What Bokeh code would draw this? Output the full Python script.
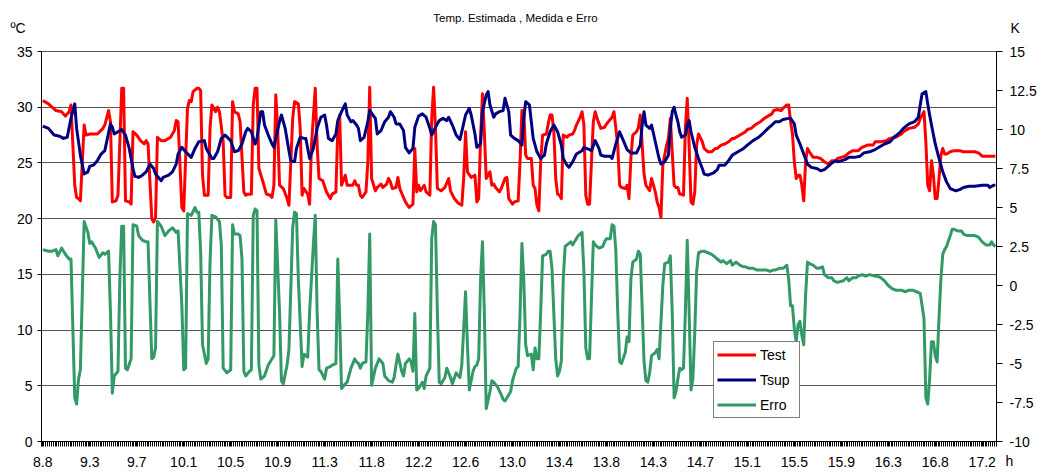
from bokeh.plotting import figure
from bokeh.models import (Range1d, LinearAxis, FixedTicker, Label, Legend, LegendItem,
                          CustomJSTickFormatter)
from bokeh.embed import file_html
from bokeh.resources import INLINE

FONT = "Liberation Sans"

# time axis: minutes after 8:50 (one sample per minute); labels every 25 min
x_tick_labels = ["8.8", "9.3", "9.7", "10.1", "10.5", "10.9", "11.3", "11.8", "12.2", "12.6",
                 "13.0", "13.4", "13.8", "14.3", "14.7", "15.1", "15.5", "15.9", "16.3", "16.8", "17.2"]
label_step_min = 25
n_samples = 508

test_min = [0, 3, 7, 10, 12, 14, 15, 17, 18, 19, 20, 22, 23, 25, 29, 32, 33, 35, 36, 37, 39, 40, 42, 43, 44, 46, 47, 48, 50, 52, 54, 55, 56, 58, 59, 60, 61, 63, 65, 68, 70, 71, 72, 74, 75, 77, 78, 79, 80, 82,
            83, 84, 85, 86, 88, 89, 90, 91, 92, 93, 94, 96, 97, 98, 100, 101, 102, 104, 105, 107, 108, 109, 111, 112, 113, 114, 115, 117, 119, 121, 122, 123, 124, 125, 126, 128, 130, 131, 133, 134, 136, 137, 138, 139, 141, 142, 143, 145, 146, 147, 149, 151, 153, 154, 156, 157, 158, 159, 161, 162, 165, 166, 167,
            168, 169, 170, 172, 173, 174, 175, 177, 178, 180, 181, 183, 184, 185, 186, 188, 189, 190, 192, 193, 195, 197, 198, 199, 200, 201, 203, 204, 206, 207, 208, 209, 210, 212, 214, 216, 217, 219, 221, 223, 224, 225, 226, 228, 230, 231, 232, 233, 234, 235, 236, 238, 239, 240, 241, 243, 244, 246, 247, 248, 250, 251, 253,
            254, 255, 256, 257, 258, 260, 261, 262, 263, 264, 265, 266, 268, 269, 270, 271, 272, 273, 274, 275, 276, 277, 279, 280, 282, 283, 284, 286, 287, 288, 289, 290, 291, 293, 294, 295, 297, 299, 300, 301, 303, 304, 306, 307, 308, 310, 311, 312, 313, 314, 316, 317, 318, 320, 321, 323, 324, 326, 327, 328, 329, 330, 332, 333, 334, 336, 337, 338, 339,
            340, 341, 342, 343, 344, 345, 346, 347, 348, 349, 351, 352, 354, 356, 358, 359, 361, 363, 365, 367, 368, 370, 372, 374, 375, 377, 379, 381, 382, 384, 386, 388, 389, 391, 393, 394, 396, 397, 398, 399, 400, 401, 402, 403, 404, 405, 406, 407, 408, 410, 412, 414, 416, 418, 420, 422,
            423, 427, 429, 431, 434, 436, 439, 442, 443, 446, 449, 451, 454, 457, 458, 461, 464, 466, 467, 469, 470, 471, 472, 473, 474, 475, 476, 477, 478, 479, 480, 481, 483, 485, 488, 490, 494, 496, 498, 500, 503, 505, 507]
test_val = [30.6, 30.3, 29.7, 29.6, 29.2, 29.6, 30.2, 23.0, 21.9, 21.8, 21.6, 28.4, 27.5, 27.6, 27.6, 28.1, 28.4, 29.7, 28.7, 21.5, 21.6, 22.1, 31.7, 31.7, 21.6, 21.5, 21.3, 27.8, 27.5, 27.0, 26.7, 27.0, 26.7, 20.0, 19.7, 20.1, 27.3, 27.0, 27.0, 27.3, 27.9, 28.8, 28.7, 21.0, 20.7, 29.9, 30.6, 30.5, 31.4, 31.7,
            31.7, 31.5, 23.9, 22.1, 22.1, 28.1, 30.2, 29.9, 29.6, 30.0, 29.6, 26.9, 22.1, 21.9, 21.9, 30.5, 29.6, 29.4, 28.7, 22.4, 22.1, 22.2, 22.2, 30.2, 31.7, 31.7, 24.5, 23.4, 22.2, 22.1, 21.9, 23.0, 31.1, 28.1, 23.0, 22.7, 21.8, 21.2, 29.0, 30.5, 30.3, 28.1, 22.1, 22.7, 22.2, 21.3, 26.6, 31.7, 26.6, 23.6, 23.4, 22.4, 21.8, 22.2, 22.4, 28.1, 29.3, 23.0, 23.9, 23.0, 23.0, 23.4, 23.0,
            23.0, 22.1, 21.9, 22.4, 25.1, 31.8, 23.6, 22.5, 22.8, 23.1, 22.8, 23.1, 23.6, 23.3, 22.7, 22.8, 23.7, 22.7, 21.9, 21.5, 21.0, 21.3, 26.3, 22.4, 23.0, 22.5, 23.0, 22.4, 22.1, 29.0, 31.8, 28.1, 22.7, 22.5, 22.8, 23.6, 22.5, 21.8, 21.4, 21.2, 23.6, 27.8, 24.2, 23.7, 23.9, 21.5, 21.8, 27.2, 31.2, 27.8, 23.6, 24.2, 23.0, 23.1, 22.8, 22.4, 22.7, 23.6, 23.7, 21.8, 21.3, 21.5, 21.6,
            25.1, 29.7, 29.6, 25.7, 25.4, 25.4, 23.0, 22.7, 21.2, 20.7, 25.1, 27.5, 27.6, 28.5, 29.3, 29.3, 27.8, 23.6, 22.2, 22.1, 21.8, 27.5, 27.3, 27.5, 27.6, 27.9, 28.4, 29.1, 29.6, 28.4, 22.1, 21.3, 21.3, 28.7, 29.6, 29.0, 28.1, 28.2, 28.5, 28.7, 29.1, 29.6, 26.6, 23.0, 22.8, 22.7, 23.0, 21.8, 25.4, 27.5, 27.8, 28.2, 29.3, 24.0, 23.0, 22.5, 23.6, 22.4, 21.5, 21.0, 20.1, 24.8, 26.6, 27.2, 29.0, 23.0, 22.8, 22.8, 22.2,
            22.2, 22.1, 28.1, 30.8, 26.6, 21.5, 21.3, 22.4, 26.6, 27.6, 26.9, 26.3, 26.0, 26.0, 26.3, 26.3, 26.6, 26.7, 26.9, 27.2, 27.2, 27.4, 27.6, 27.8, 28.0, 28.1, 28.4, 28.6, 28.7, 29.0, 29.2, 29.4, 29.7, 29.8, 29.7, 29.9, 30.2, 30.2, 28.7, 27.6, 25.1, 23.6, 23.9, 23.9, 23.0, 21.6, 25.1, 26.3, 26.0, 25.5, 25.5, 25.4, 25.1, 24.9, 25.2, 25.2,
            25.4, 25.6, 25.9, 26.1, 26.1, 26.4, 26.6, 26.6, 26.9, 26.9, 27.0, 27.2, 27.3, 27.6, 27.8, 28.1, 28.2, 28.5, 29.0, 29.6, 26.9, 23.0, 22.5, 25.2, 23.9, 21.8, 21.8, 23.6, 25.7, 26.3, 25.8, 25.8, 26.0, 26.1, 26.1, 26.0, 26.0, 26.0, 25.9, 25.6, 25.6, 25.6, 25.6]

tsup_min = [0, 3, 6, 9, 11, 13, 15, 17, 18, 20, 22, 24, 25, 27, 29, 31, 33, 34, 36, 37, 38, 40, 42, 44, 46, 48, 49, 51, 53, 55, 57, 59, 60, 63, 64, 67, 69, 71, 72, 74, 76, 79, 81,
            83, 86, 87, 90, 91, 93, 95, 97, 100, 102, 104, 106, 108, 109, 111, 113, 114, 116, 117, 118, 120, 122, 123, 124, 126, 127, 129, 131, 132, 134, 135, 137, 139, 140, 142, 144, 146, 148, 150, 151, 152, 154, 156, 157, 159, 161, 162, 164, 165, 167,
            168, 169, 171, 173, 174, 177, 178, 180, 182, 184, 185, 187, 188, 190, 192, 193, 195, 197, 198, 200, 202, 204, 206, 207, 209, 211, 213, 215, 216, 218, 220, 222, 223, 225, 227, 228, 230, 231, 233, 234, 236, 237, 238, 240, 241, 243, 245, 246, 248, 249, 251, 253,
            255, 256, 257, 259, 260, 261, 263, 265, 267, 268, 270, 272, 274, 276, 277, 279, 280, 282, 284, 287, 288, 291, 292, 294, 296, 297, 299, 302, 303, 305, 307, 309, 311, 313, 316, 318, 319, 320, 321, 323, 324, 326, 328, 329, 331, 333, 334, 335, 336, 337, 338, 339,
            340, 342, 343, 344, 345, 347, 349, 351, 352, 354, 357, 359, 360, 363, 365, 367, 370, 373, 375, 378, 381, 383, 386, 388, 390, 392, 394, 397, 398, 400, 401, 403, 405, 407, 409, 412, 414, 416, 418, 420, 422,
            423, 427, 429, 432, 435, 437, 440, 443, 445, 448, 451, 453, 456, 458, 461, 464, 466, 467, 468, 470, 471, 472, 473, 475, 477, 479, 481, 483, 486, 488, 490, 493, 496, 500, 503, 504, 506, 507]
tsup_val = [28.3, 28.1, 27.5, 27.4, 27.2, 27.3, 29.0, 30.3, 28.1, 25.7, 24.0, 24.2, 24.7, 24.8, 25.2, 25.8, 26.1, 26.9, 28.5, 28.2, 27.6, 27.8, 28.0, 27.5, 26.3, 24.5, 23.8, 23.7, 23.9, 24.2, 24.9, 24.5, 24.0, 23.4, 23.7, 23.9, 24.2, 24.9, 25.8, 26.4, 26.0, 25.5, 26.3,
            26.9, 27.0, 26.3, 25.4, 25.4, 26.0, 27.2, 27.5, 27.0, 26.0, 26.1, 26.7, 27.8, 28.1, 27.8, 26.7, 27.2, 29.6, 29.6, 28.4, 27.5, 26.7, 26.4, 27.2, 28.7, 29.3, 28.1, 26.1, 25.2, 25.1, 26.3, 27.3, 27.2, 27.2, 25.4, 26.3, 28.1, 29.1, 29.3, 28.4, 27.2, 27.0, 27.6, 28.8, 29.6, 30.3, 29.3, 28.7, 28.8, 28.4,
            28.1, 27.0, 27.3, 28.7, 29.7, 29.0, 27.6, 27.9, 28.7, 29.1, 29.6, 29.1, 28.5, 28.5, 27.9, 26.4, 25.9, 26.3, 28.2, 29.2, 29.4, 29.1, 28.1, 27.5, 28.2, 28.8, 29.0, 28.8, 29.1, 28.4, 27.5, 27.1, 27.8, 29.3, 29.9, 29.3, 27.6, 26.4, 26.7, 29.6, 31.1, 31.4, 30.2, 29.1, 29.4, 29.6, 29.7, 30.8, 29.6, 27.5, 27.2, 27.0,
            26.6, 29.0, 30.5, 30.2, 28.7, 27.2, 26.0, 25.4, 25.7, 26.7, 27.8, 28.4, 27.8, 26.6, 25.4, 24.8, 24.6, 25.1, 25.8, 26.1, 26.4, 26.2, 26.1, 27.0, 26.3, 25.7, 25.6, 25.6, 25.4, 26.7, 27.8, 27.0, 26.2, 25.9, 25.9, 26.6, 28.4, 29.6, 28.4, 28.1, 28.4, 26.9, 25.4, 24.9, 25.1, 25.7, 28.1, 29.6, 30.0, 29.3, 28.7, 27.8,
            27.3, 27.5, 28.4, 28.8, 27.8, 26.4, 25.4, 24.5, 24.0, 23.9, 24.1, 24.4, 24.8, 24.8, 25.2, 25.7, 26.0, 26.3, 26.6, 27.0, 27.3, 27.6, 28.1, 28.4, 28.7, 28.7, 28.9, 29.0, 29.0, 28.5, 27.5, 26.7, 25.8, 24.9, 24.6, 24.5, 24.3, 24.4, 24.7, 25.0, 25.2,
            25.1, 25.3, 25.5, 25.5, 25.6, 25.9, 26.0, 26.2, 26.4, 26.7, 26.9, 27.3, 27.7, 28.1, 28.5, 28.7, 29.1, 30.2, 31.2, 31.4, 30.3, 29.3, 28.4, 26.7, 25.4, 24.2, 23.3, 22.7, 22.5, 22.6, 22.8, 22.9, 22.9, 23.0, 23.0, 22.8, 23.0, 23.0]

erro_min = [0, 3, 5, 7, 8, 10, 12, 14, 15, 16, 17, 18, 19, 20, 21, 22, 24, 25, 26, 28, 30, 32, 33, 35, 36, 37, 38, 40, 41, 42, 43, 44, 45, 47, 48, 50, 51, 53, 55, 56, 58, 59, 60, 61, 63, 65, 67, 69, 71, 72, 74, 75, 76, 77, 79, 81, 82,
            83, 84, 85, 87, 88, 89, 90, 92, 94, 95, 96, 98, 100, 101, 102, 104, 105, 106, 107, 108, 110, 111, 112, 113, 114, 115, 116, 118, 120, 122, 123, 124, 126, 127, 128, 130, 131, 133, 134, 135, 136, 138, 139, 141, 142, 144, 145, 146, 147, 148, 150, 151, 153, 154, 156, 157, 158, 159, 161, 162, 164, 166, 167,
            168, 169, 170, 172, 173, 174, 175, 177, 179, 181, 182, 184, 186, 187, 188, 189, 191, 192, 193, 195, 196, 197, 198, 199, 200, 202, 203, 204, 206, 207, 208, 209, 210, 211, 212, 214, 215, 217, 218, 220, 222, 223, 224, 225, 226, 227, 229, 230, 231, 232, 233, 234, 235, 236, 238, 239, 240, 242, 244, 245, 246, 248, 249, 250, 252, 253, 254,
            255, 256, 257, 258, 260, 261, 262, 263, 264, 265, 266, 268, 269, 270, 271, 273, 274, 275, 276, 277, 278, 280, 281, 282, 283, 285, 286, 287, 288, 289, 290, 291, 293, 294, 296, 298, 299, 300, 302, 303, 304, 305, 306, 307, 308, 310, 311, 312, 313, 314, 316, 317, 318, 320, 321, 322, 323, 324, 326, 327, 328, 330, 331, 333, 334, 335, 336, 337, 338, 339,
            340, 341, 342, 343, 344, 345, 346, 347, 348, 349, 351, 352, 354, 356, 358, 359, 361, 362, 364, 366, 367, 369, 371, 373, 374, 376, 378, 380, 382, 383, 385, 387, 389, 390, 392, 394, 395, 396, 397, 398, 399, 400, 401, 402, 403, 404, 405, 406, 407, 408, 410, 412, 413, 415, 416, 418, 420, 421,
            423, 426, 428, 429, 431, 433, 434, 436, 438, 440, 443, 444, 446, 448, 450, 452, 454, 457, 459, 461, 463, 465, 467, 469, 470, 471, 472, 473, 474, 475, 476, 477, 478, 479, 480, 481, 483, 484, 485, 487, 489, 490, 492, 494, 496, 498, 500, 502, 504, 505, 506, 507]
erro_val = [2.3, 2.2, 2.2, 2.3, 1.9, 2.4, 2.0, 1.7, 1.7, -2.8, -7.2, -7.6, -6.0, -5.4, -0.6, 4.1, 3.4, 2.7, 2.8, 2.4, 1.8, 2.1, 2.0, 2.2, -1.7, -6.9, -5.8, -5.5, 0.4, 3.8, 3.8, -5.3, -5.4, -4.7, 3.9, 3.8, 3.2, 2.9, 2.8, 2.8, -4.7, -4.6, -4.0, 4.1, 3.8, 3.2, 3.5, 3.7, 3.4, 3.5, -1.3, -5.4, -5.3, 4.6, 4.5, 5.0, 4.7,
            4.7, 2.2, -3.8, -5.0, -4.7, 1.5, 4.5, 4.4, 4.1, 2.6, -5.3, -5.6, -5.4, 3.9, 3.3, 3.3, 3.2, 1.7, -5.5, -5.8, -5.5, -5.4, 4.5, 4.9, 4.8, -5.1, -6.0, -5.8, -5.1, -4.7, -4.5, 4.2, -1.7, -6.1, -6.3, -5.1, -4.1, 3.7, 4.7, 4.6, 0.4, -5.2, -4.4, -4.6, -1.7, 2.6, 4.5, -1.7, -5.4, -5.5, -6.0, -5.3, -5.2, -5.1, -5.0, 1.7, -2.1, -6.6, -6.3, -6.2, -5.3, -4.7, -4.9,
            -5.0, -5.3, -5.0, -4.9, -1.7, 3.3, -6.4, -5.3, -4.7, -5.0, -5.8, -6.1, -6.2, -5.9, -5.1, -4.4, -5.5, -5.8, -5.0, -4.7, -4.9, -5.5, -1.8, -6.7, -6.6, -6.2, -6.6, -5.8, -5.3, 3.0, 4.1, 3.9, -1.7, -6.2, -6.3, -5.9, -5.3, -5.9, -6.3, -5.6, -5.9, -5.1, -2.8, -0.4, -3.8, -6.7, -5.5, -5.2, -5.1, -4.7, 0.4, 2.8, -1.7, -7.9, -6.8, -6.1, -6.2, -6.5, -7.0, -7.3, -7.4, -7.0, -6.8, -6.1, -5.3, -5.2, -1.9,
            2.7, 0.4, -3.8, -4.5, -4.4, -5.4, -4.0, -4.7, -4.7, -1.7, 1.9, 2.0, 2.2, 2.2, 1.1, -4.7, -5.8, -5.5, -4.8, 0.4, 2.5, 2.7, 2.8, 2.6, 2.8, 3.2, 3.3, 3.4, 0.9, -4.0, -4.7, -4.7, 2.8, 2.6, 2.4, 2.5, 2.8, 3.0, 3.0, 3.9, 3.8, 2.2, -1.7, -4.9, -5.0, -4.3, -3.3, -3.6, 0.4, 1.5, 1.7, 2.2, 2.0, -4.9, -6.1, -6.2, -5.6, -4.5, -4.3, -4.1, -4.7, 0.0, 1.4, 1.5, 1.9, -1.7, -7.2, -6.8, -6.0, -5.3,
            -5.4, -5.3, -1.7, 2.9, -1.7, -6.7, -6.0, -3.0, 0.9, 2.1, 2.2, 2.2, 2.1, 2.0, 1.8, 1.7, 1.5, 1.6, 1.4, 1.6, 1.3, 1.5, 1.3, 1.2, 1.2, 1.1, 1.1, 1.0, 1.0, 1.0, 1.0, 0.9, 1.0, 1.0, 1.1, 1.1, 1.2, 1.3, 0.4, -1.3, -1.3, -2.8, -3.6, -2.5, -2.3, -3.2, -3.8, -0.6, 1.5, 1.4, 1.3, 1.1, 1.1, 1.2, 0.7, 0.5, 0.5, 0.3,
            0.2, 0.3, 0.5, 0.3, 0.5, 0.5, 0.6, 0.7, 0.6, 0.7, 0.6, 0.6, 0.5, 0.3, 0.0, -0.2, -0.3, -0.3, -0.4, -0.3, -0.3, -0.4, -0.5, -2.1, -7.2, -7.6, -6.0, -3.6, -3.6, -4.5, -4.9, -2.1, 0.4, 2.0, 2.3, 2.5, 3.2, 3.6, 3.6, 3.5, 3.5, 3.3, 3.2, 3.2, 3.2, 3.1, 2.8, 2.6, 2.6, 2.8, 2.6, 2.5]

left_ticks = [0, 5, 10, 15, 20, 25, 30, 35]
right_ticks = [-10, -7.5, -5, -2.5, 0, 2.5, 5, 7.5, 10, 12.5, 15]
left_lim = (0, 35)
right_lim = (-10, 15)

# ---- layout geometry (pixels) ----
W, H = 1046, 471
plot_left, plot_right, plot_top, plot_bottom = 41.0, 996.0, 51.0, 441.0
px_per_min = (plot_right - plot_left) / (n_samples + 0.3)
x_lo = -0.7
x_hi = x_lo + (plot_right - plot_left) / px_per_min

def xspan(a, b):
    return (x_lo - (plot_left - a) / px_per_min, x_lo + (b - plot_left) / px_per_min)

def yspan(lim):
    k = (lim[1] - lim[0]) / (plot_bottom - plot_top)
    return (lim[0] - (H - plot_bottom) * k, lim[1] + plot_top * k)

xr = xspan(0, W)
yl = yspan(left_lim)
yr = yspan(right_lim)

p = figure(width=W, height=H, title=None,
           x_range=Range1d(*xr), y_range=Range1d(*yl),
           output_backend="svg", toolbar_location=None,
           min_border=0, min_border_left=0, min_border_right=0, min_border_top=0, min_border_bottom=0,
           outline_line_color=None, background_fill_color="white", border_fill_color="white")
p.extra_y_ranges = {"err": Range1d(*yr)}

def style_axis(ax):
    ax.axis_line_color = "black"
    ax.axis_line_width = 1
    ax.major_tick_line_color = "black"
    ax.minor_tick_line_color = "black"
    ax.major_label_text_font = FONT
    ax.major_label_text_font_size = "14px"
    ax.major_label_text_color = "black"
    ax.major_tick_in = 0
    ax.minor_tick_in = 0

# x axis
xa = p.xaxis[0]
style_axis(xa)
x_ticks = [i * label_step_min for i in range(len(x_tick_labels))]
xa.ticker = FixedTicker(ticks=x_ticks, minor_ticks=[k + 0.5 for k in range(-1, n_samples)])
xa.formatter = CustomJSTickFormatter(args=dict(labels=x_tick_labels, step=label_step_min),
                                     code="return labels[Math.round(tick/step)];")
xa.fixed_location = left_lim[0]
xa.bounds = (x_lo, x_hi)
xa.major_tick_out = 5
xa.minor_tick_out = 5
xa.major_label_standoff = 10

# left axis
ya = p.yaxis[0]
style_axis(ya)
ya.ticker = FixedTicker(ticks=left_ticks)
ya.fixed_location = x_lo
ya.bounds = left_lim
ya.major_tick_out = 4
ya.minor_tick_out = 0
ya.major_label_standoff = 5

# right axis
ra = LinearAxis(y_range_name="err", ticker=FixedTicker(ticks=right_ticks),
                formatter=CustomJSTickFormatter(code="return tick.toString();"))
style_axis(ra)
ra.fixed_location = x_hi
ra.bounds = right_lim
ra.major_tick_out = 6
ra.minor_tick_out = 0
ra.major_label_standoff = 7
p.add_layout(ra, "right")

p.xgrid.grid_line_color = None
g = p.ygrid[0]
g.ticker = FixedTicker(ticks=left_ticks)
g.bounds = left_lim
g.grid_line_color = "#555555"
g.grid_line_width = 1
if "cross_bounds" in g.properties():
    g.cross_bounds = (x_lo, x_hi)
else:
    g.grid_line_color = None
    p.segment(x0=x_lo, x1=x_hi, y0=left_ticks, y1=left_ticks, line_color="#555555", line_width=1)

r_test = p.line(test_min, test_val, line_color="#FF0000", line_width=3, line_join="round")
r_tsup = p.line(tsup_min, tsup_val, line_color="#000080", line_width=3, line_join="round")
r_erro = p.line(erro_min, erro_val, line_color="#339966", line_width=3, line_join="round",
                y_range_name="err")

legend = Legend(items=[LegendItem(label="Test", renderers=[r_test]),
                       LegendItem(label="Tsup", renderers=[r_tsup]),
                       LegendItem(label="Erro", renderers=[r_erro])],
                location=(713, H - 418), orientation="vertical",
                border_line_color="black", border_line_width=1,
                background_fill_color="white", background_fill_alpha=1.0,
                label_text_font=FONT, label_text_font_size="14px", label_text_color="black",
                glyph_width=39, glyph_height=19, spacing=6, padding=3, margin=0,
                label_standoff=4, label_width=36)
p.add_layout(legend)

def add_text(txt, x, y, size="14px", align="left"):
    # x, y: page pixels from the top-left corner
    p.add_layout(Label(x=x, y=H - y, x_units="screen", y_units="screen", text=txt,
                       text_font=FONT, text_font_size=size, text_color="black",
                       text_align=align, text_baseline="middle"))

add_text("Temp. Estimada , Medida e Erro", 515, 17, size="11.5px", align="center")
add_text("ºC", 10, 27)
add_text("K", 1010, 27)
add_text("h", 1005, 460)

open("out.html", "w").write(file_html(p, INLINE))
